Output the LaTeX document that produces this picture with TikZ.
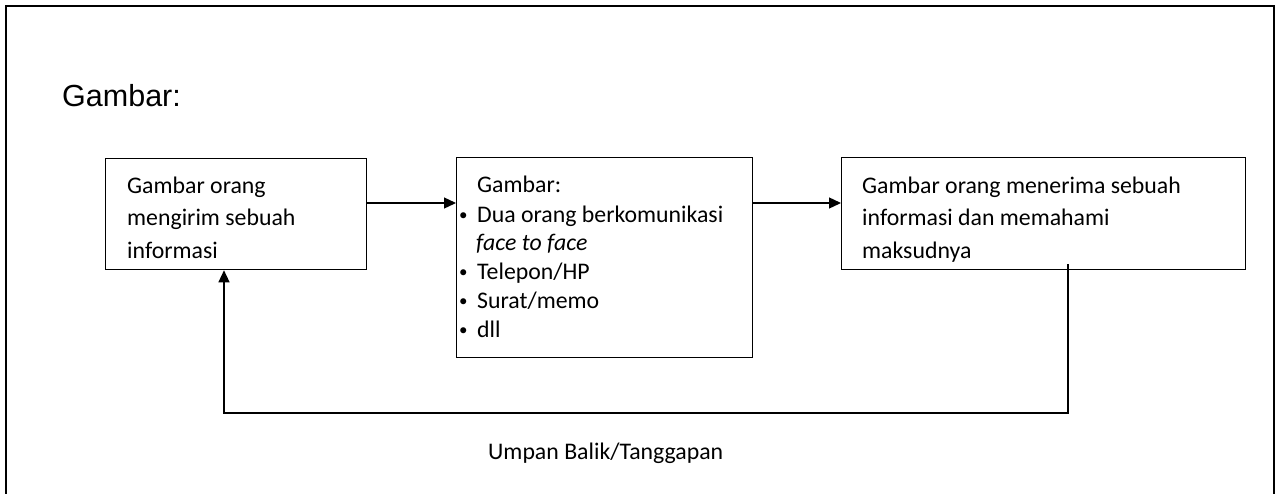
\documentclass[tikz,border=0pt]{standalone}
\usepackage{fontspec}
\setmainfont{Carlito}
\newfontfamily\arialfont{Liberation Sans}
\usetikzlibrary{arrows.meta}
\tikzset{
  boxnode/.style={draw=black, line width=1.3pt, rectangle, inner sep=0pt, anchor=north west},
  txt/.style={anchor=base west, inner sep=0pt, font=\fontsize{23.8}{28}\selectfont},
  bul/.style={anchor=base west, inner sep=0pt, font=\fontsize{17}{20}\selectfont},
  arr/.style={line width=1.3pt, -{Triangle[length=12pt,width=11pt]}},
}
\begin{document}
\begin{tikzpicture}[x=1pt,y=-1pt]
\useasboundingbox (0,0) rectangle (1280,493);
% outer frame (open at bottom)
\draw[line width=2pt] (6,500) -- (6,6) -- (1274,6) -- (1274,500);
\node[anchor=base west, inner sep=0pt, font=\arialfont\fontsize{30.5}{34}\selectfont] (title) at (62,106) {Gambar:};
% boxes
\node[boxnode, minimum width=261pt, minimum height=111pt] (b1) at (105,158) {};
\node[boxnode, minimum width=296pt, minimum height=200pt] (b2) at (456,157) {};
\node[boxnode, minimum width=404pt, minimum height=112pt] (b3) at (841,157) {};
% box 1 text
\node[txt] (t11) at (127,193) {Gambar orang};
\node[txt] (t12) at (127,225) {mengirim sebuah};
\node[txt] (t13) at (127,258) {informasi};
% box 2 text
\node[txt] (t21) at (477,192) {Gambar:};
\node[bul] (u1) at (459,220) {•};
\node[txt] (t22) at (477,222) {Dua orang berkomunikasi};
\node[txt] (t23) at (476,250) {\itshape face to face};
\node[bul] (u2) at (459,277) {•};
\node[txt] (t24) at (477,279) {Telepon/HP};
\node[bul] (u3) at (459,306) {•};
\node[txt] (t25) at (477,308) {Surat/memo};
\node[bul] (u4) at (459,335) {•};
\node[txt] (t26) at (477,337) {dll};
% box 3 text (last line clipped by the box)
\node[txt] (t31) at (862,193) {Gambar orang menerima sebuah};
\node[txt] (t32) at (862,225) {informasi dan memahami};
\begin{scope}
\clip (841,230) rectangle (1245,261);
\node[txt] (t33) at (862,258) {maksudnya};
\end{scope}
% connectors
\coordinate (lvl) at (0,203);
\draw[arr] (b1.east |- lvl) -- (b2.west |- lvl);
\draw[arr] (b2.east |- lvl) -- (b3.west |- lvl);
\coordinate (fbtop) at (1068,264);
\coordinate (fbbot) at (1068,413);
\coordinate (fbx) at (224,0);
\draw[arr] (fbtop) -- (fbbot) -- (fbbot -| fbx) -- (b1.south -| fbx);
\node[txt] (fb) at (488,459) {Umpan Balik/Tanggapan};
\end{tikzpicture}
\end{document}
